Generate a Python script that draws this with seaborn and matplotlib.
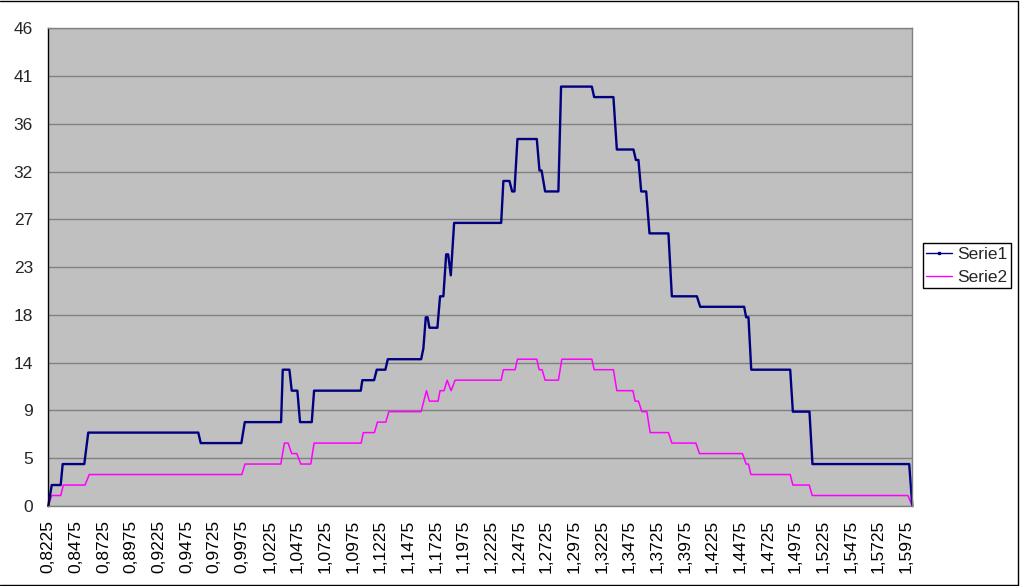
import numpy as np
import pandas as pd
import matplotlib.pyplot as plt
import seaborn as sns
from matplotlib.lines import Line2D

# vertices (x = category value, y = count)
serie1_x = [0.8225, 0.8256, 0.8337, 0.8355, 0.8550, 0.8586, 0.9580, 0.9602, 0.9969, 1.0000,
            1.0328, 1.0343, 1.0403, 1.0424, 1.0475, 1.0499, 1.0605, 1.0626, 1.1048, 1.1062,
            1.1168, 1.1192, 1.1270, 1.1292, 1.1593, 1.1613, 1.1635, 1.1651, 1.1668, 1.1740,
            1.1764, 1.1794, 1.1819, 1.1837, 1.1861, 1.1891, 1.2316, 1.2336, 1.2391, 1.2415,
            1.2436, 1.2463, 1.2638, 1.2662, 1.2681, 1.2713, 1.2833, 1.2857, 1.3135, 1.3156,
            1.3330, 1.3361, 1.3511, 1.3533, 1.3556, 1.3581, 1.3626, 1.3656, 1.3827, 1.3858,
            1.4084, 1.4114, 1.4511, 1.4529, 1.4550, 1.4575, 1.4927, 1.4951, 1.5101, 1.5128,
            1.6002, 1.6030]
serie1_y = [0, 2, 2, 4, 4, 7, 7, 6, 6, 8,
            8, 13, 13, 11, 11, 8, 8, 11, 11, 12,
            12, 13, 13, 14, 14, 15, 18, 18, 17, 17,
            20, 20, 24, 24, 22, 27, 27, 31, 31, 30,
            30, 35, 35, 32, 32, 30, 30, 40, 40, 39,
            39, 34, 34, 33, 33, 30, 30, 26, 26, 20,
            20, 19, 19, 18, 18, 13, 13, 9, 9, 4,
            4, 0]

serie2_x = [0.8225, 0.8256, 0.8337, 0.8361, 0.8557, 0.8595, 0.9973, 1.0002, 1.0325, 1.0358,
            1.0391, 1.0424, 1.0470, 1.0506, 1.0596, 1.0626, 1.1051, 1.1071, 1.1171, 1.1198,
            1.1274, 1.1301, 1.1593, 1.1641, 1.1668, 1.1746, 1.1764, 1.1800, 1.1828, 1.1864,
            1.1900, 1.2316, 1.2336, 1.2442, 1.2463, 1.2638, 1.2659, 1.2686, 1.2713, 1.2833,
            1.2864, 1.3135, 1.3156, 1.3330, 1.3361, 1.3506, 1.3526, 1.3556, 1.3587, 1.3632,
            1.3662, 1.3827, 1.3858, 1.4075, 1.4107, 1.4496, 1.4529, 1.4550, 1.4572, 1.4927,
            1.4951, 1.5099, 1.5126, 1.5990, 1.6030]
serie2_y = [0, 1, 1, 2, 2, 3, 3, 4, 4, 6,
            6, 5, 5, 4, 4, 6, 6, 7, 7, 8,
            8, 9, 9, 11, 10, 10, 11, 11, 12, 11,
            12, 12, 13, 13, 14, 14, 13, 13, 12, 12,
            14, 14, 13, 13, 11, 11, 10, 10, 9, 9,
            7, 7, 6, 6, 5, 5, 4, 4, 3, 3,
            2, 2, 1, 1, 0]

y_tick_labels = ['0', '5', '9', '14', '18', '23', '27', '32', '36', '41', '46']
y_unit = 4.556
x_first, x_last = 0.8225, 1.6030

sns.set_style("white")
plt.rcParams['font.family'] = ['Liberation Sans', 'DejaVu Sans']
FS = 12.5

df1 = pd.DataFrame({'x': serie1_x, 'y': serie1_y})
df2 = pd.DataFrame({'x': serie2_x, 'y': serie2_y})

W, H = 1021, 586
fig = plt.figure(figsize=(W / 100, H / 100), dpi=100)
fig.patch.set_facecolor('white')
ax = fig.add_axes([48.3 / W, (H - 506) / H, (912.3 - 48.3) / W, (506 - 28.3) / H])
ax.set_facecolor('#C0C0C0')

sns.lineplot(data=df2, x='x', y='y', ax=ax, color='#FF00FF', linewidth=1.1,
             sort=False, estimator=None, clip_on=False)
sns.lineplot(data=df1, x='x', y='y', ax=ax, color='#000080', linewidth=1.7,
             sort=False, estimator=None, clip_on=False)

ax.set_xlim(x_first, x_last)
ax.set_ylim(0, y_unit * 10)
ax.set_xlabel('')
ax.set_ylabel('')

yt = [y_unit * i for i in range(len(y_tick_labels))]
ax.set_yticks(yt)
ax.set_yticklabels(y_tick_labels, fontsize=FS)
ax.yaxis.grid(True, color='#808080', linewidth=1)
ax.xaxis.grid(False)
ax.set_axisbelow(True)

xt = np.arange(0.8225, 1.6, 0.025)
ax.set_xticks(xt)
ax.set_xticklabels([f"{v:.4f}".replace('.', ',') for v in xt], rotation=90, fontsize=FS)
ax.set_xticks(np.arange(x_first, x_last, 0.0035), minor=True)
ax.tick_params(axis='x', which='major', length=0, pad=10, colors='black')
ax.tick_params(axis='x', which='minor', length=4, width=1, color='#808080', direction='out')
ax.tick_params(axis='y', which='major', length=5, width=1, color='black', direction='out', pad=6)

for side in ['top', 'right', 'bottom']:
    ax.spines[side].set_color('#808080')
    ax.spines[side].set_linewidth(1)
ax.spines['left'].set_color('black')
ax.spines['left'].set_linewidth(1)
for s in ax.spines.values():
    s.set_visible(True)

handles = [Line2D([0], [0], color='#000080', lw=1, marker='s', markersize=2),
           Line2D([0], [0], color='#FF00FF', lw=1)]
leg = fig.legend(handles, ['Serie1', 'Serie2'], loc='upper left',
                 bbox_to_anchor=(923 / W, 1 - 243 / H), borderaxespad=0,
                 frameon=True, fancybox=False, edgecolor='black', framealpha=1,
                 borderpad=0.2, handlelength=1.45, handletextpad=0.3,
                 labelspacing=0.45, fontsize=FS, numpoints=1)
leg.get_frame().set_linewidth(1)

# outer chart border
fig.add_artist(Line2D([0, 1017.5 / W], [1 - 0.5 / H, 1 - 0.5 / H], color='black', lw=1,
                      transform=fig.transFigure))
fig.add_artist(Line2D([1017.5 / W, 1017.5 / W], [1 - 0.5 / H, 1 - 584.5 / H], color='black', lw=1,
                      transform=fig.transFigure))
fig.add_artist(Line2D([0, 1017.5 / W], [1 - 584.5 / H, 1 - 584.5 / H], color='black', lw=1,
                      transform=fig.transFigure))

fig.savefig('out.png', dpi=100)
